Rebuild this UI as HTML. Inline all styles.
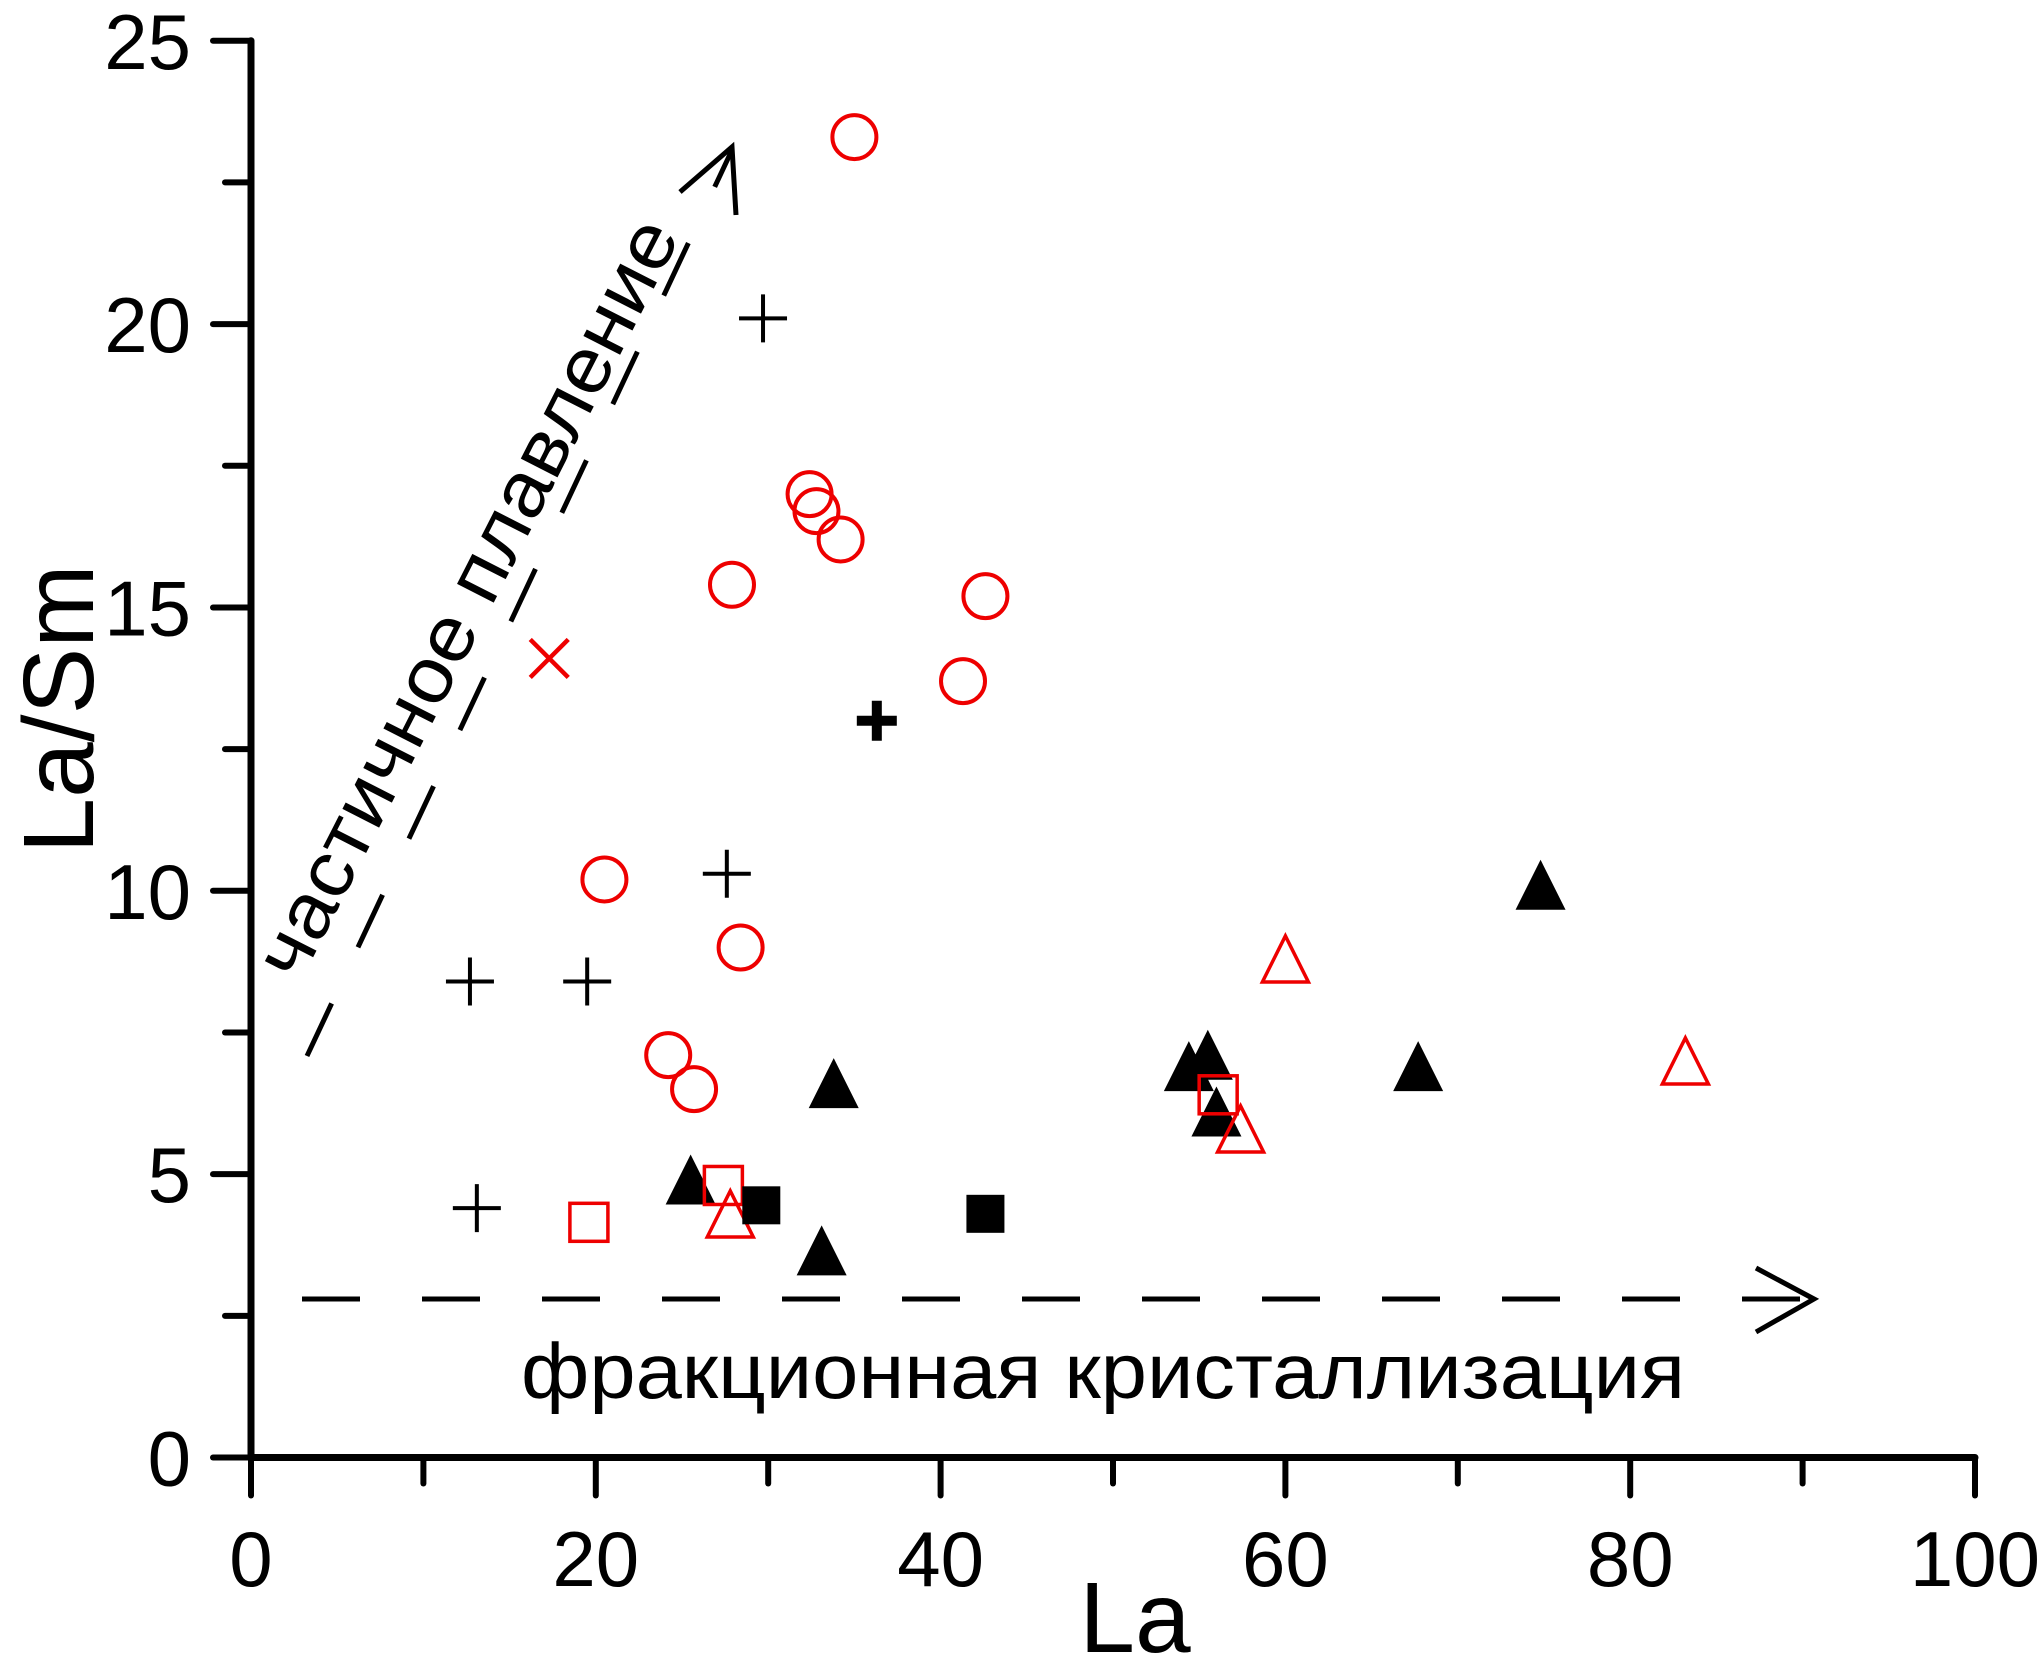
<!DOCTYPE html>
<html><head><meta charset="utf-8"><style>html,body{margin:0;padding:0;background:#fff}svg{display:block}</style></head>
<body>
<svg id="chart" width="2039" height="1675" viewBox="0 0 2039 1675" xmlns="http://www.w3.org/2000/svg" font-family="'Liberation Sans', 'DejaVu Sans', sans-serif">
<g id="axes"></g>
<g id="marks"></g>
<g id="ann"></g>
</svg>
<script>
const xTicks=[0,20,40,60,80,100];
const yTicks=[0,5,10,15,20,25];
const redCirclesX=[35.0,32.4,32.8,34.2,27.9,42.6,41.3,20.5,28.4,24.2,25.7];
const redCirclesY=[23.3,17.0,16.7,16.2,15.4,15.2,13.7,10.2,9.0,7.1,6.5];
const redCrossX=[17.3];
const redCrossY=[14.1];
const plusX=[29.7,27.6,12.7,19.5,13.1];
const plusY=[20.1,10.3,8.4,8.4,4.4];
const boldPlusX=[36.3];
const boldPlusY=[13.0];
const blackTriX=[74.8,33.8,54.4,55.5,56.0,67.7,25.5,33.1];
const blackTriY=[10.0,6.5,6.8,7.0,6.0,6.8,4.8,3.55];
const redTriX=[60.0,83.2,57.4,27.8];
const redTriY=[8.7,6.9,5.7,4.2];
const redSqX=[19.6,27.4,56.1];
const redSqY=[4.15,4.8,6.4];
const blackSqX=[29.6,42.6];
const blackSqY=[4.45,4.3];

const NS='http://www.w3.org/2000/svg';
const X=v=>251+v*17.24;
const Y=v=>1457.5-v*56.67;
function mk(tag,attrs,parent){const e=document.createElementNS(NS,tag);for(const k in attrs)e.setAttribute(k,attrs[k]);parent.appendChild(e);return e;}
const axes=document.getElementById('axes'),marks=document.getElementById('marks'),ann=document.getElementById('ann');

let e;
e=mk('line',{x1:X(0),y1:Y(0),x2:X(100),y2:Y(0),stroke:'#000','stroke-width':7,'stroke-linecap':'round'},axes);


e=mk('line',{x1:X(0),y1:Y(0),x2:X(0),y2:Y(25),stroke:'#000','stroke-width':7,'stroke-linecap':'round'},axes);


for(let v=0;v<=100;v+=10){
  const major=v%20===0;
  e=mk('line',{x1:X(v),y1:Y(0),x2:X(v),y2:Y(0)+(major?38:26),stroke:'#000','stroke-width':6,'stroke-linecap':'round'},axes);
  
  
}
for(let v=0;v<=25;v+=2.5){
  const major=v%5===0;
  e=mk('line',{x1:X(0),y1:Y(v),x2:X(0)-(major?38:26),y2:Y(v),stroke:'#000','stroke-width':6,'stroke-linecap':'round'},axes);
  
  
}
xTicks.forEach(v=>{
  e=mk('text',{x:X(v),y:1586,'font-size':78,'text-anchor':'middle'},axes);e.textContent=v;
  
  
});
yTicks.forEach(v=>{
  e=mk('text',{x:191,y:Y(v)+28,'font-size':78,'text-anchor':'end'},axes);e.textContent=v;
  
  
});
e=mk('text',{x:1135,y:1652,'font-size':100,'text-anchor':'middle'},axes);e.textContent='La';


e=mk('text',{x:0,y:0,'font-size':100,'text-anchor':'middle',transform:'translate(93,709) rotate(-90)'},axes);e.textContent='La/Sm';



e=mk('line',{x1:302,y1:1299,x2:1814,y2:1299,stroke:'#000','stroke-width':5,'stroke-dasharray':'58 62'},ann);


e=mk('polyline',{points:'1756,1268 1814,1299 1756,1332',fill:'none',stroke:'#000','stroke-width':5},ann);


e=mk('line',{x1:307,y1:1056,x2:732,y2:150,stroke:'#000','stroke-width':5,'stroke-dasharray':'58 62'},ann);


e=mk('polyline',{points:'680,192 732,147 736,215',fill:'none',stroke:'#000','stroke-width':5},ann);


e=mk('text',{x:1103,y:1398,'font-size':78,'text-anchor':'middle',textLength:1164,lengthAdjust:'spacingAndGlyphs'},ann);e.textContent='фракционная кристаллизация';


e=mk('text',{x:0,y:0,'font-size':78,'text-anchor':'middle',textLength:840,lengthAdjust:'spacingAndGlyphs',transform:'translate(490,610) rotate(-63)'},ann);e.textContent='частичное плавление';



redCirclesX.forEach((v,i)=>{
  e=mk('circle',{cx:X(v),cy:Y(redCirclesY[i]),r:22,fill:'none',stroke:'#e00','stroke-width':4},marks);
  
  
});
redCrossX.forEach((v,i)=>{
  const cx=X(v),cy=Y(redCrossY[i]),s=19;
  e=mk('path',{d:`M${cx-s},${cy-s}L${cx+s},${cy+s}M${cx-s},${cy+s}L${cx+s},${cy-s}`,stroke:'#e00','stroke-width':4.5},marks);
  
  
});
plusX.forEach((v,i)=>{
  const cx=X(v),cy=Y(plusY[i]),s=24;
  e=mk('path',{d:`M${cx-s},${cy}L${cx+s},${cy}M${cx},${cy-s}L${cx},${cy+s}`,stroke:'#000','stroke-width':4},marks);
  
  
});
boldPlusX.forEach((v,i)=>{
  const cx=X(v),cy=Y(boldPlusY[i]),s=20;
  e=mk('path',{d:`M${cx-s},${cy}L${cx+s},${cy}M${cx},${cy-s}L${cx},${cy+s}`,stroke:'#000','stroke-width':10},marks);
  
  
});
function tri(cx,cy,s){return `${cx},${cy-s*0.62} ${cx+s/2},${cy+s*0.38} ${cx-s/2},${cy+s*0.38}`;}
blackTriX.forEach((v,i)=>{
  e=mk('polygon',{points:tri(X(v),Y(blackTriY[i]),50),fill:'#000'},marks);
  
  
});
redTriX.forEach((v,i)=>{
  e=mk('polygon',{points:tri(X(v),Y(redTriY[i]),46),fill:'none',stroke:'#e00','stroke-width':3.5},marks);
  
  
});
redSqX.forEach((v,i)=>{
  e=mk('rect',{x:X(v)-19,y:Y(redSqY[i])-19,width:38,height:38,fill:'none',stroke:'#e00','stroke-width':3.5},marks);
  
  
});
blackSqX.forEach((v,i)=>{
  e=mk('rect',{x:X(v)-19,y:Y(blackSqY[i])-19,width:38,height:38,fill:'#000'},marks);
  
  
});
</script>
</body></html>
